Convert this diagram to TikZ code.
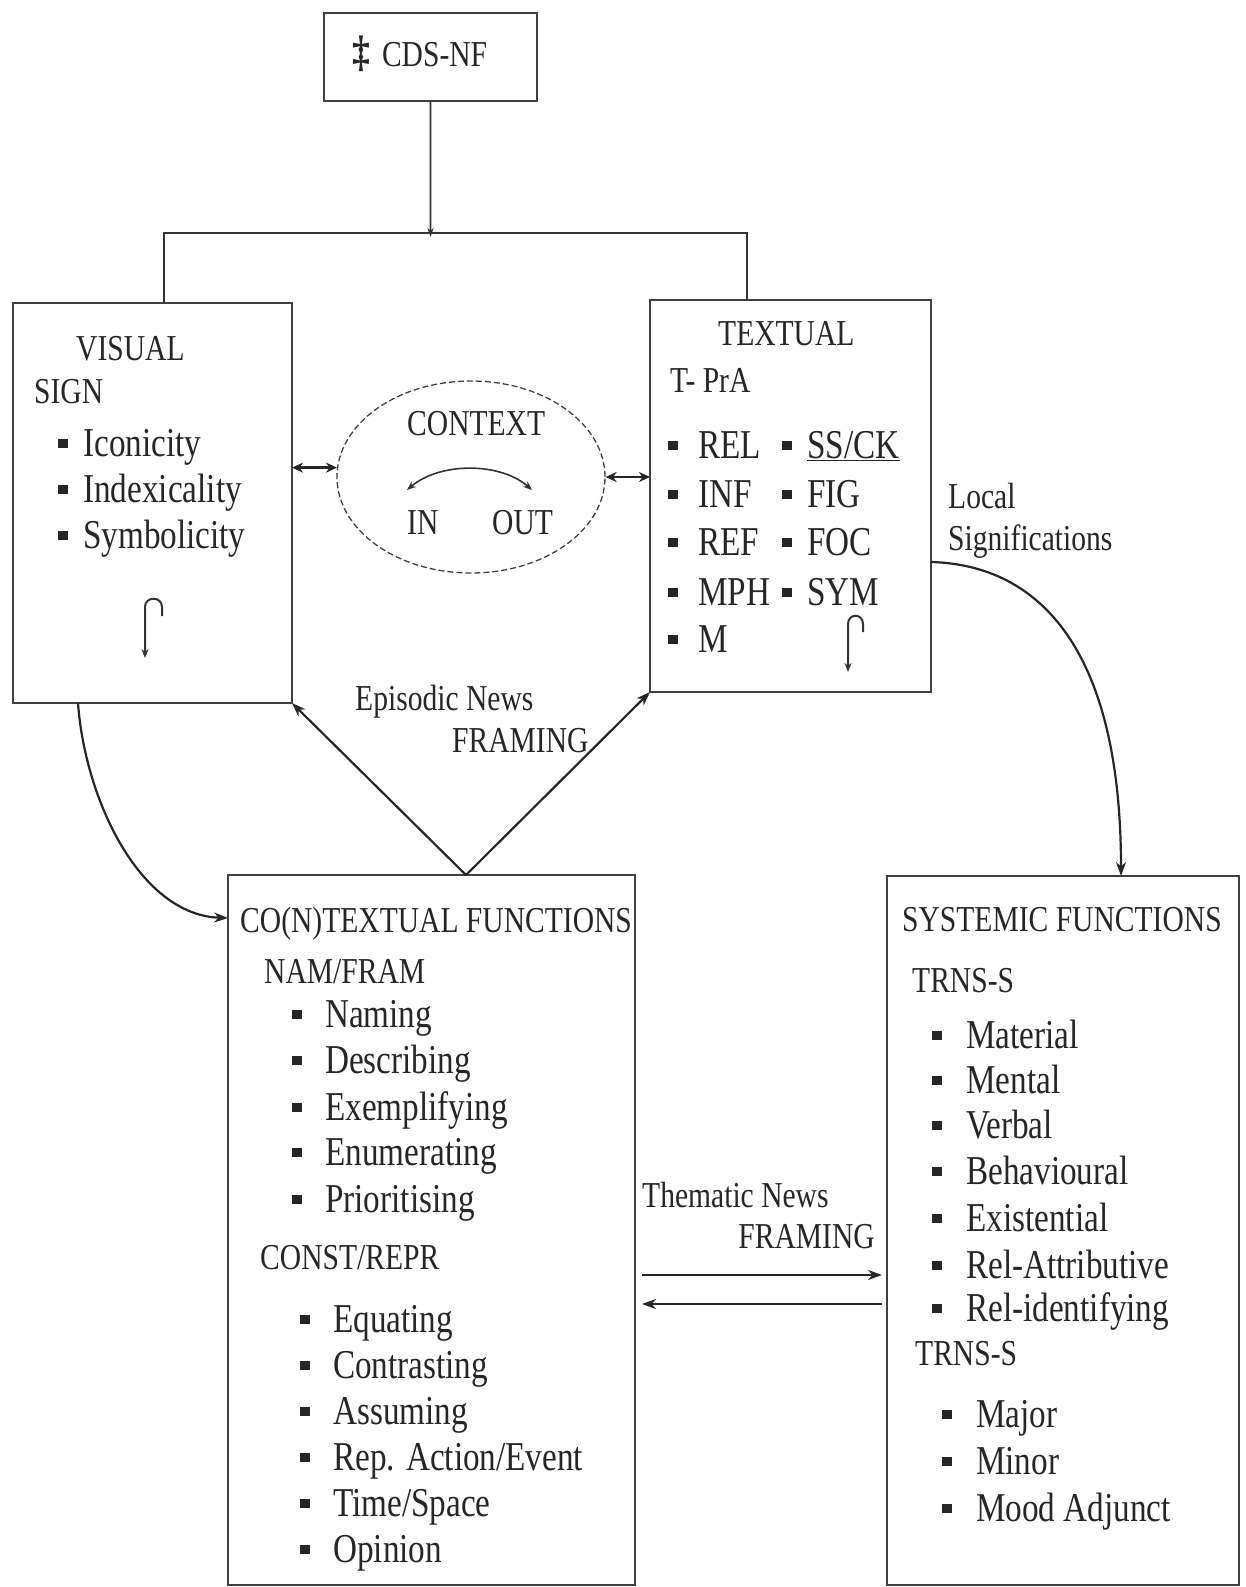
\documentclass[tikz,border=0pt]{standalone}
\usepackage{fontspec}
\setmainfont[FakeStretch=0.81]{Liberation Serif}
\usetikzlibrary{arrows.meta,shapes.geometric,calc}
\newcommand{\bulsq}{\rule[8bp]{9.5bp}{9.5bp}}
\begin{document}
\begin{tikzpicture}[x=1bp,y=-1bp,
  box/.style={draw=black!75, line width=1.6bp, anchor=north west, inner sep=0, outer sep=0},
  hd/.style={anchor=base west, inner sep=0, text=black!85, font=\fontsize{36.5bp}{42bp}\selectfont},
  it/.style={anchor=base west, inner sep=0, text=black!85, font=\fontsize{41bp}{46bp}\selectfont},
  conn/.style={draw=black!80, line width=1.6bp},
  arr/.style={draw=black!85, line width=2.2bp, -{Stealth[length=14bp,width=10bp]}},
  dbl/.style={draw=black!85, line width=2.6bp, {Stealth[length=11bp,width=10bp]}-{Stealth[length=11bp,width=10bp]}},
  hook/.style={draw=black!80, line width=2bp, -{Stealth[length=9bp,width=7bp]}},
  thinarr/.style={draw=black!80, line width=1.6bp, {Stealth[length=9bp,width=7bp]}-{Stealth[length=9bp,width=7bp]}}
]
\useasboundingbox (0,0) rectangle (1245,1587);

% ---------- boxes ----------
\node[box, minimum width=213bp, minimum height=88bp]  (top) at (324,13)  {};
\node[box, minimum width=279bp, minimum height=400bp] (vis) at (13,303)  {};
\node[box, minimum width=281bp, minimum height=392bp] (txt) at (650,300) {};
\node[box, minimum width=407bp, minimum height=710bp] (cf)  at (228,875) {};
\node[box, minimum width=352bp, minimum height=709bp] (sf)  at (887,876) {};
\node[draw=black!75, dash pattern=on 6bp off 3bp, line width=1.3bp, ellipse,
      minimum width=268bp, minimum height=192bp, inner sep=0] (ctx) at (471,477) {};

% ---------- top node and bracket ----------
\node[hd] (cds) at (352,67) {{\fontsize{44bp}{44bp}\selectfont\textbf{‡}}\hspace{12bp}CDS-NF};
\coordinate (bl) at (164,233);
\coordinate (bm) at (430.5,233);
\coordinate (brr) at (747,233);
\draw[conn, -{Stealth[length=9bp,width=6bp]}] (top.south) -- ([yshift=-4bp]bm);
\draw[conn] (vis.north -| bl) -- (bl) -- (brr) -- (txt.north -| brr);

% ---------- VISUAL ----------
\node[hd] (vist) at (76,360) {VISUAL};
\node[hd] (sign) at (34,403) {SIGN};
\foreach \y/\t [count=\i] in {456/Iconicity, 502/Indexicality, 548/Symbolicity}
  \node[it] (vi\i) at (58,\y) {\makebox[25bp][l]{\bulsq}\t};
\coordinate (vh) at (162,616);
\draw[hook] (vh) -- (162,607) .. controls (162,596) and (145,596) .. (145,607) -- (145,658);

% ---------- CONTEXT ----------
\node[hd] (ctxt) at (407,435) {CONTEXT};
\node[hd] (cin)  at (407,534) {IN};
\node[hd] (cout) at (492,534) {OUT};
\coordinate (ca) at (407,490);
\coordinate (cb) at (532,490);
\draw[thinarr] (ca) .. controls (440,462) and (500,462) .. (cb);
\draw[dbl] (ctx.176) -- (vis.east |- ctx.176);
\draw[dbl] (ctx.east) -- (txt.west |- ctx.east);

% ---------- TEXTUAL ----------
\node[hd] (txtt) at (718,345) {TEXTUAL};
\node[hd] (tpra) at (670,392) {T- PrA};
\foreach \y/\t [count=\i] in {458/REL, 507/INF, 555/REF, 605/MPH, 652/M}
  \node[it] (ta\i) at (668,\y) {\makebox[30bp][l]{\bulsq}\t};
\foreach \y/\t [count=\i] in {458/{\underline{SS/CK}}, 507/FIG, 555/FOC, 605/SYM}
  \node[it] (tb\i) at (782,\y) {\makebox[25bp][l]{\bulsq}\t};
\coordinate (th) at (863,632);
\draw[hook] (th) -- (863,624) .. controls (863,613) and (848,613) .. (848,624) -- (848,672);

\node[hd] (loc1) at (948,508) {Local};
\node[hd] (loc2) at (948,550) {Significations};

% ---------- episodic framing ----------
\node[hd] (epi1) at (355,710) {Episodic News};
\node[hd] (epi2) at (452,752) {FRAMING};
\coordinate (apex) at (466,875);
\draw[arr] (apex) -- (vis.south east);
\draw[arr] (apex) -- (txt.south west);

% ---------- curved connectors ----------
\draw[arr] ($(vis.south west)+(65,0)$) .. controls (85,800) and (140,915) .. ($(cf.north west)+(0,43)$);
\draw[arr] ($(txt.north east)+(0,262)$) .. controls (1040,565) and (1121,650) .. ($(sf.north west)+(234,0)$);

% ---------- CO(N)TEXTUAL FUNCTIONS ----------
\node[hd] (cft) at (240,932) {CO(N)TEXTUAL FUNCTIONS};
\node[hd] (nam) at (264,983) {NAM/FRAM};
\foreach \y/\t [count=\i] in {1027/Naming, 1073/Describing, 1120/Exemplifying, 1165/Enumerating, 1212/Prioritising}
  \node[it] (na\i) at (292,\y) {\makebox[33bp][l]{\bulsq}\t};
\node[hd] (cons) at (260,1269) {CONST/REPR};
\foreach \y/\t [count=\i] in {1332/Equating, 1378/Contrasting, 1424/Assuming, 1470/{Rep. Action/Event}, 1516/{Time/Space}, 1562/Opinion}
  \node[it] (co\i) at (300,\y) {\makebox[33bp][l]{\bulsq}\t};

% ---------- thematic framing ----------
\node[hd] (the1) at (642,1207) {Thematic News};
\node[hd, anchor=base east] (the2) at (875,1248) {FRAMING};
\coordinate (tA) at (0,1275);
\coordinate (tB) at (0,1304);
\draw[arr, shorten <=7bp, shorten >=5bp] (cf.east |- tA) -- (sf.west |- tA);
\draw[arr, shorten <=5bp, shorten >=7bp] (sf.west |- tB) -- (cf.east |- tB);

% ---------- SYSTEMIC FUNCTIONS ----------
\node[hd] (sft) at (902,931) {SYSTEMIC FUNCTIONS};
\node[hd] (tr1) at (912,992) {TRNS-S};
\foreach \y/\t [count=\i] in {1048/Material, 1093/Mental, 1138/Verbal, 1184/Behavioural, 1231/Existential, 1278/Rel-Attributive, 1321/Rel-identifying}
  \node[it] (sa\i) at (932,\y) {\makebox[34bp][l]{\bulsq}\t};
\node[hd] (tr2) at (915,1365) {TRNS-S};
\foreach \y/\t [count=\i] in {1427/Major, 1474/Minor, 1521/Mood Adjunct}
  \node[it] (sb\i) at (942,\y) {\makebox[34bp][l]{\bulsq}\t};
\end{tikzpicture}
\end{document}
